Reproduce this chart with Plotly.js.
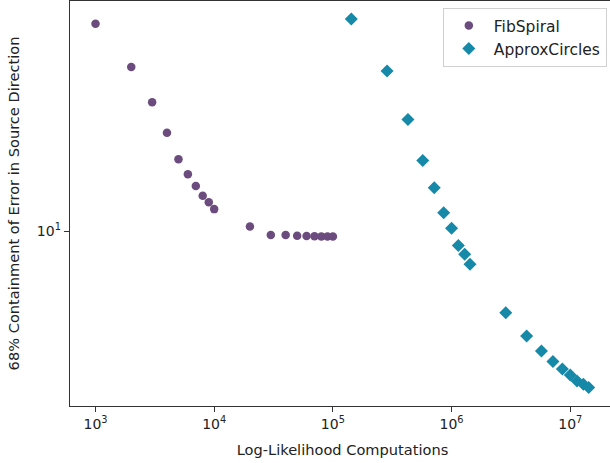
<!DOCTYPE html>
<html>
<head>
<meta charset="utf-8">
<script src="https://cdn.plot.ly/plotly-3.0.1.min.js"></script>
<style>
html,body{margin:0;padding:0;overflow:hidden;background:#fff;}
#chart{width:615px;height:463px;}
</style>
</head>
<body>
<div id="chart"></div>
<script>
// ---- data ----
const fibX = [1000,2000,3000,4000,5000,6000,7000,8000,9000,10000,20000,30000,40000,50000,60000,70000,80000,90000,100000];
const fibY = [55.1,38.6,28.9,22.5,18.1,16.0,14.5,13.4,12.7,12.0,10.4,9.70,9.70,9.64,9.62,9.60,9.58,9.58,9.58];
const approxX = [143000,286000,429000,572000,715000,858000,1000000,1140000,1290000,1430000,2860000,4290000,5720000,7150000,8580000,10000000,11400000,12900000,14300000];
const approxY = [57.3,37.4,25.1,17.9,14.3,11.65,10.25,8.89,8.28,7.62,5.12,4.23,3.74,3.43,3.22,3.07,2.92,2.84,2.77];
const seriesNames = ["FibSpiral","ApproxCircles"];
const xMajorVals = [1e3,1e4,1e5,1e6,1e7];
const xMajorText = ["10<sup>3</sup>","10<sup>4</sup>","10<sup>5</sup>","10<sup>6</sup>","10<sup>7</sup>"];
const yMajorVals = [10];
const yMajorText = ["10<sup>1</sup>"];
const xTitle = "Log-Likelihood Computations";
const yTitle = "68% Containment of Error in Source Direction";

// minor tick positions (axis decoration)
const xMinor = [];
for (let e = 2; e <= 7; e++) for (let m = 2; m <= 9; m++) xMinor.push(m * Math.pow(10, e));
const yMinor = [2,3,4,5,6,7,8,9,20,30,40,50,60,70,80,90];

const FONT = "DejaVu Sans, sans-serif";
const axisCol = "#333";
const xRange = [2.785, 7.377];
const yRange = [0.376, 1.8225];

const traces = [
  {x: fibX, y: fibY, name: seriesNames[0], type: "scatter", mode: "markers",
   marker: {symbol: "circle", size: 8.5, color: "#6c4b7e"}},
  {x: approxX, y: approxY, name: seriesNames[1], type: "scatter", mode: "markers",
   marker: {symbol: "diamond", size: 10, color: "#1689a8"}}
];

const layout = {
  width: 615, height: 463,
  margin: {l: 70, r: 0, t: 1, b: 57},
  paper_bgcolor: "#fff", plot_bgcolor: "#fff",
  font: {family: FONT, size: 14, color: "#222"},
  showlegend: true,
  legend: {x: 0.985, y: 0.983, xanchor: "right", yanchor: "top", itemwidth: 40,
           bgcolor: "rgba(255,255,255,0.9)", bordercolor: "#d0d0d0", borderwidth: 1,
           font: {family: FONT, size: 15.5, color: "#222"}},
  xaxis: {type: "log", range: xRange, autorange: false,
          tickmode: "array", tickvals: xMajorVals, ticktext: xMajorText,
          ticks: "outside", ticklen: 5, tickwidth: 1, tickcolor: axisCol,
          showline: true, linecolor: axisCol, linewidth: 1.3, mirror: true,
          showgrid: false, zeroline: false,
          tickfont: {family: FONT, size: 14, color: "#222"},
          title: {text: xTitle, font: {family: FONT, size: 14.6, color: "#222"}, standoff: 13}},
  xaxis2: {type: "log", range: xRange, autorange: false, overlaying: "x", anchor: "y", side: "bottom",
           tickmode: "array", tickvals: xMinor, showticklabels: false,
           ticks: "outside", ticklen: 3, tickwidth: 1, tickcolor: axisCol,
           showline: false, showgrid: false, zeroline: false},
  yaxis: {type: "log", range: yRange, autorange: false,
          tickmode: "array", tickvals: yMajorVals, ticktext: yMajorText,
          ticks: "outside", ticklen: 5, tickwidth: 1, tickcolor: axisCol,
          showline: true, linecolor: axisCol, linewidth: 1.3, mirror: true,
          showgrid: false, zeroline: false,
          tickfont: {family: FONT, size: 14, color: "#222"},
          title: {text: yTitle, font: {family: FONT, size: 14.6, color: "#222"}, standoff: 13}},
  yaxis2: {type: "log", range: yRange, autorange: false, overlaying: "y", anchor: "x", side: "left",
           tickmode: "array", tickvals: yMinor, showticklabels: false,
           ticks: "outside", ticklen: 3, tickwidth: 1, tickcolor: axisCol,
           showline: false, showgrid: false, zeroline: false}
};

Plotly.newPlot("chart", traces, layout, {staticPlot: true, displayModeBar: false});
</script>
</body>
</html>
